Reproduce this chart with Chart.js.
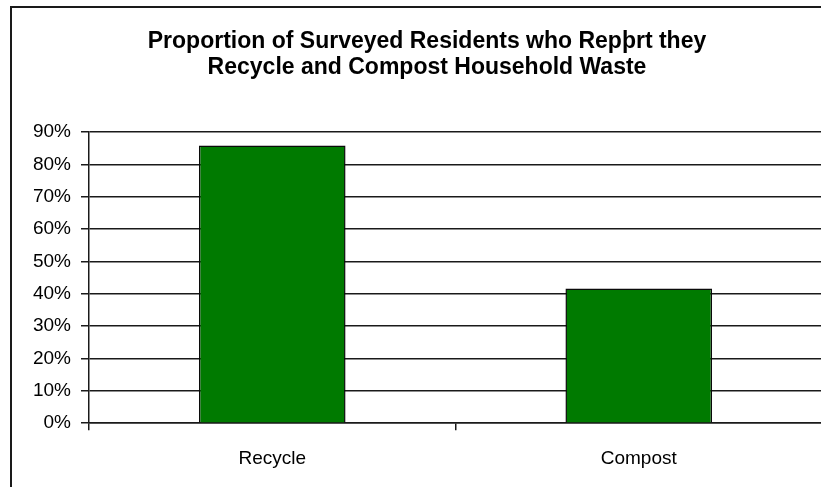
<!DOCTYPE html>
<html>
<head>
<meta charset="utf-8">
<script src="https://cdn.jsdelivr.net/npm/chart.js@4/dist/chart.umd.min.js"></script>
<style>
  html, body { margin: 0; padding: 0; background: #fff; overflow: hidden; }
  #frame {
    position: absolute;
    left: 10px;
    top: 6px;
    width: 830px;
    height: 520px;
    border: 2px solid #1a1a1a;
    background: #fff;
  }
  canvas { display: block; }
</style>
</head>
<body>
<div id="frame">
  <canvas id="wasteChart" width="830" height="500"></canvas>
</div>
<script>
// Chart data
const titleLines = ['Proportion of Surveyed Residents who Repþrt they', 'Recycle and Compost Household Waste'];
const categories = ['Recycle', 'Compost'];
const shareValues = [0.858, 0.416];
const yTickMax = 0.9;
const yTickStep = 0.1;

const barGreen = '#007a00';
const lineColor = '#1a1a1a';

const ctx = document.getElementById('wasteChart').getContext('2d');

new Chart(ctx, {
  type: 'bar',
  data: {
    labels: categories,
    datasets: [{
      data: shareValues,
      backgroundColor: barGreen,
      borderColor: '#0a0a0a',
      borderWidth: 1.5,
      categoryPercentage: 1.0,
      barPercentage: 0.4
    }]
  },
  options: {
    responsive: false,
    animation: false,
    layout: {
      padding: { left: 20, right: 20, top: 0, bottom: 21 }
    },
    plugins: {
      legend: { display: false },
      tooltip: { enabled: false },
      title: {
        display: true,
        text: titleLines,
        color: '#000',
        font: { family: 'Liberation Sans', size: 23, weight: 'bold', lineHeight: 1.15 },
        padding: { top: 20, bottom: 51 }
      }
    },
    scales: {
      x: {
        grid: {
          display: true,
          drawOnChartArea: false,
          drawTicks: true,
          tickLength: 7,
          color: lineColor,
          lineWidth: 1.5
        },
        border: { display: true, color: lineColor, width: 1.5 },
        ticks: {
          color: '#000',
          padding: 17,
          font: { family: 'Liberation Sans', size: 19 }
        }
      },
      y: {
        min: 0,
        max: yTickMax,
        afterFit: scale => { scale.width = 57; },
        ticks: {
          stepSize: yTickStep,
          color: '#000',
          padding: 10,
          font: { family: 'Liberation Sans', size: 19 },
          callback: v => Math.round(v * 100) + '%'
        },
        grid: {
          color: lineColor,
          lineWidth: 1.5,
          tickLength: 8
        },
        border: { display: true, color: lineColor, width: 1.5 }
      }
    }
  }
});
</script>
</body>
</html>
